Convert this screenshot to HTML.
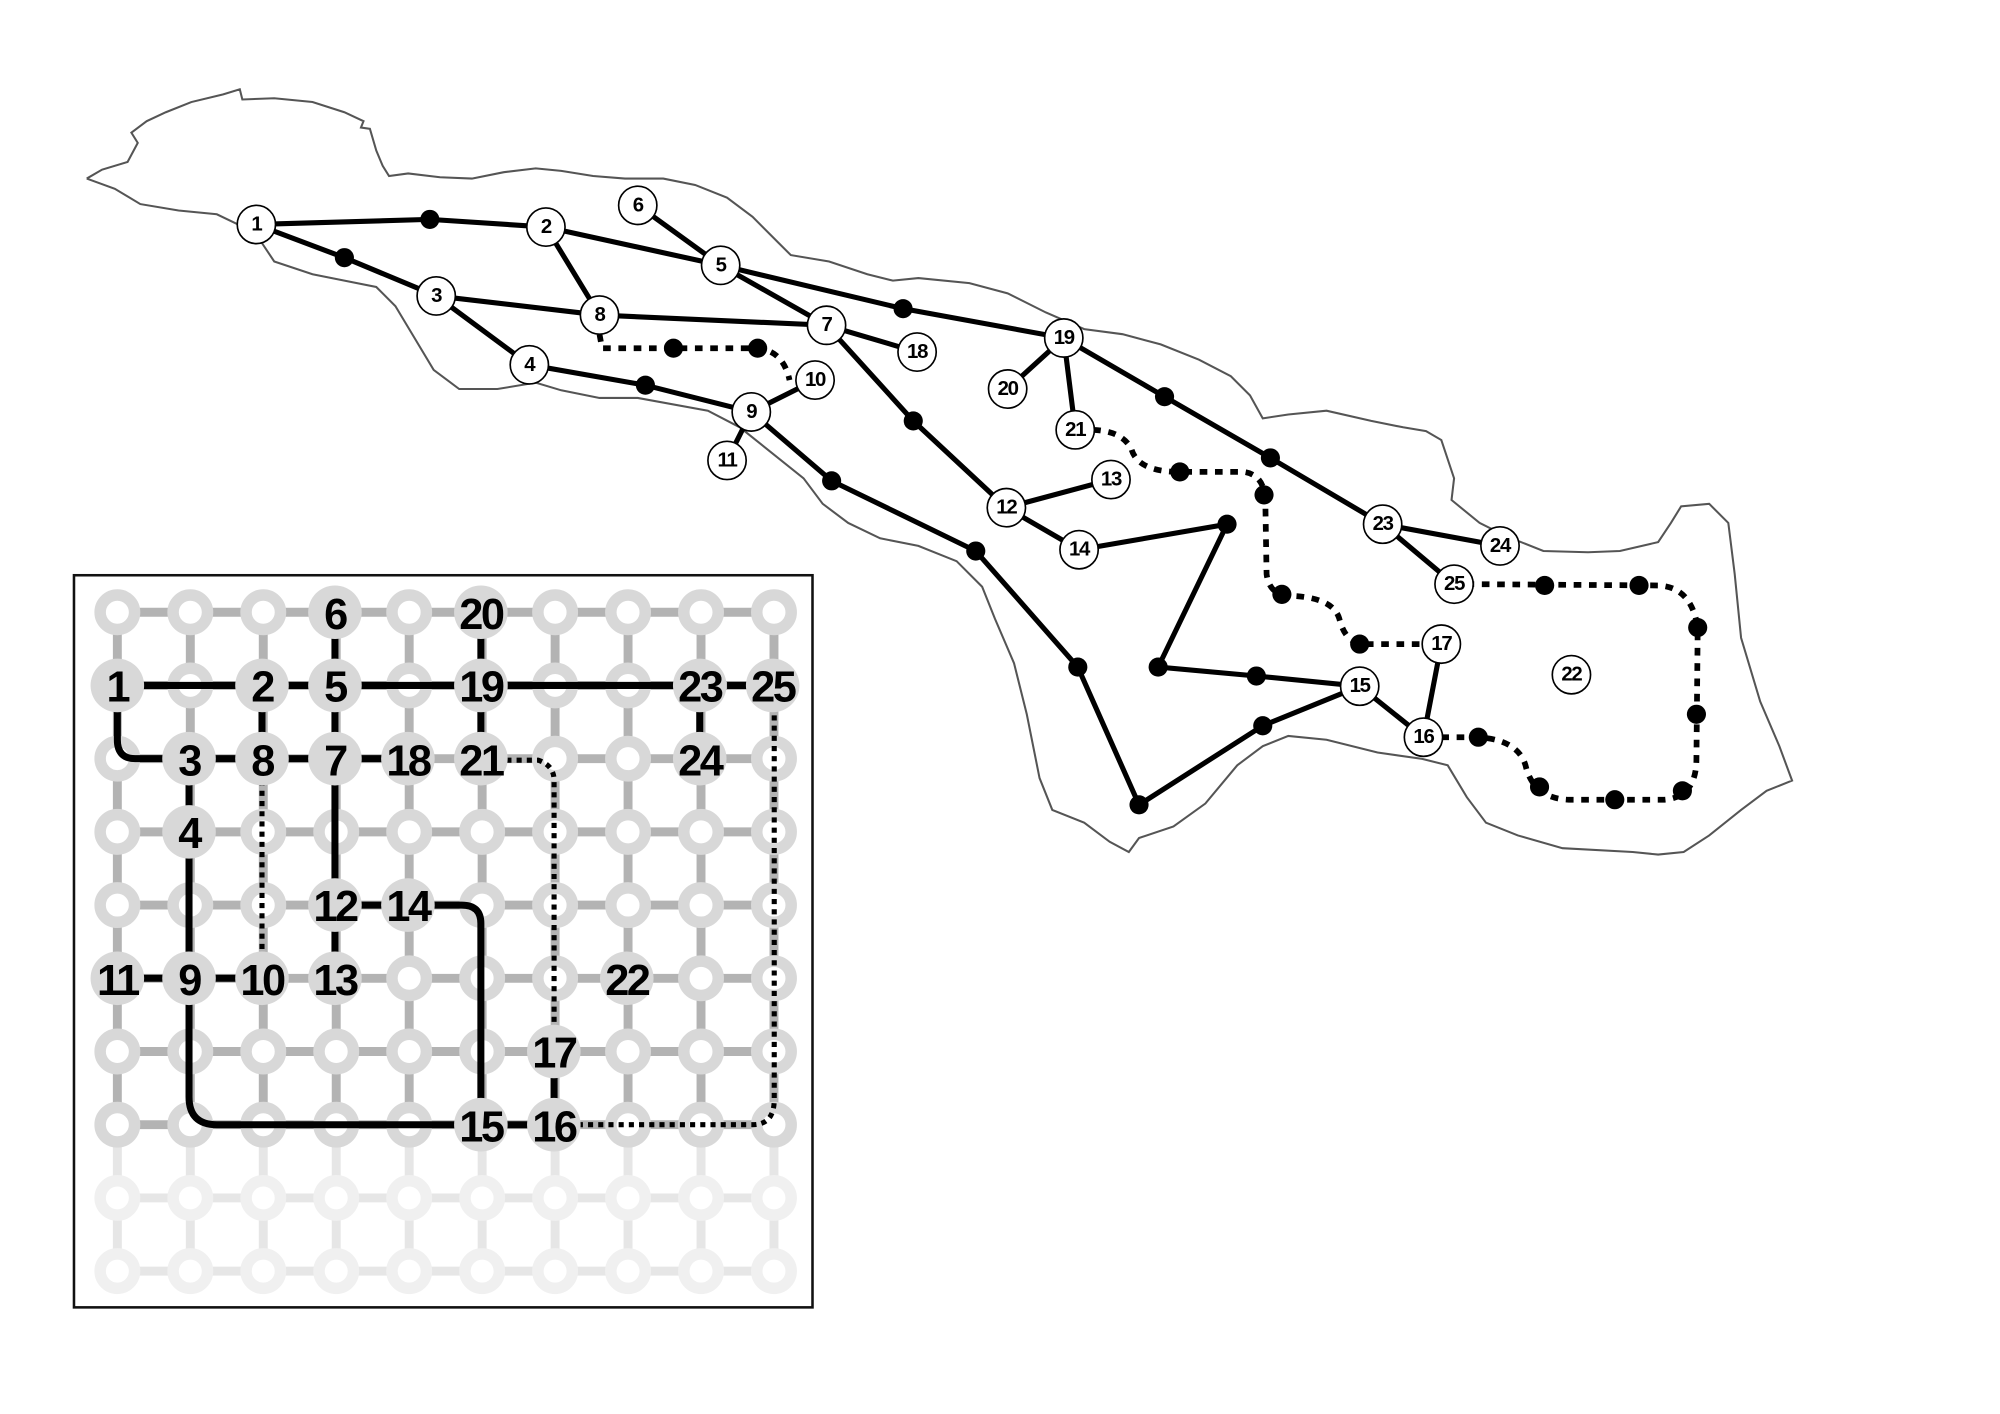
<!DOCTYPE html>
<html><head><meta charset="utf-8"><style>
html,body{margin:0;padding:0;background:#fff;}
svg{display:block;}
.n{font-family:"Liberation Sans",sans-serif;font-weight:bold;font-size:16px;text-anchor:middle;dominant-baseline:central;letter-spacing:-1px;}
.g{font-family:"Liberation Sans",sans-serif;font-weight:bold;font-size:34px;text-anchor:middle;dominant-baseline:central;letter-spacing:-2px;}
</style></head><body>
<svg width="2000" height="1414" viewBox="0 0 1568 1108.6" preserveAspectRatio="none" xmlns="http://www.w3.org/2000/svg">
<rect width="1568" height="1109" fill="#fff"/>
<path d="M68,140 L80,133 100,127 108,112 103,104 115,95 130,88 150,80 175,74 188,70 190,78 215,77 245,80 270,88 285,95 283,100 290,101 295,118 300,130 305,138 320,136 345,139 370,140 395,135 420,132 440,134 465,138 490,140 520,140 545,145 570,155 590,170 610,190 620,200 650,205 680,215 700,220 720,218 760,222 790,230 820,245 850,258 880,262 910,270 940,282 965,295 980,310 990,328 1010,325 1040,322 1075,330 1100,335 1118,338 1130,345 1140,375 1138,392 1160,410 1180,420 1210,432 1245,433 1270,432 1300,425 1310,410 1318,397 1340,395 1355,410 1360,450 1365,500 1380,550 1395,585 1405,612 1385,620 1365,635 1340,655 1320,668 1300,670 1280,668 1225,665 1190,655 1165,645 1150,625 1135,600 1115,595 1080,590 1040,580 1010,577 990,585 970,600 945,630 920,648 893,657 885,668 870,660 850,645 825,635 815,610 805,560 795,520 780,485 770,460 750,440 720,428 690,422 665,410 645,395 630,375 605,355 580,335 555,322 500,312 470,312 440,306 420,300 390,305 360,305 340,290 325,265 310,240 295,225 270,220 245,215 215,205 205,190 195,180 170,168 140,165 110,160 90,148 68,140" fill="none" stroke="#555" stroke-width="1.6"/>
<g stroke="#000" stroke-width="4" fill="none" stroke-linecap="round">
<polyline points="201,176 337,172 428,178 565,208 708,242 834,265 913,311 996,359 1084,411 1176,428"/>
<polyline points="201,176 270,202 342,232 415,286 506,302 589,323 639,298"/>
<polyline points="342,232 470,247 648,255 719,276"/>
<line x1="428" y1="178" x2="470" y2="247"/>
<polyline points="500,161 565,208 648,255 716,330 789,398 871,376"/>
<line x1="789" y1="398" x2="846" y2="431"/>
<polyline points="846,431 962,411 908,523 985,530 1066,538 1116,578 1130,505"/>
<polyline points="589,323 570,361"/>
<polyline points="589,323 652,377 765,432 845,523 893,631 990,569 1066,538"/>
<polyline points="790,305 834,265 843,337"/>
<line x1="1084" y1="411" x2="1140" y2="458"/>
</g>
<g stroke="#000" stroke-width="4.5" fill="none" stroke-dasharray="6 6">
<path d="M470,262 L472,273 L594,273 Q614,275 619,298"/>
<path d="M857,337 Q880,338 887,352 Q892,370 925,370 L975,370 Q991,372 992,392 L993,450 Q995,466 1010,467 Q1045,468 1050,485 Q1055,505 1070,505 L1115,505"/>
<path d="M1130,578 L1159,578 Q1190,580 1196,600 Q1202,626 1230,627 L1305,627 Q1330,625 1330,595 L1331,492 Q1326,460 1300,459 L1155,458"/>
</g>
<g fill="#000">
<circle cx="337" cy="172" r="7.5"/><circle cx="270" cy="202" r="7.5"/><circle cx="708" cy="242" r="7.5"/>
<circle cx="506" cy="302" r="7.5"/><circle cx="528" cy="273" r="7.5"/><circle cx="594" cy="273" r="7.5"/>
<circle cx="652" cy="377" r="7.5"/><circle cx="765" cy="432" r="7.5"/><circle cx="845" cy="523" r="7.5"/>
<circle cx="893" cy="631" r="7.5"/><circle cx="990" cy="569" r="7.5"/><circle cx="716" cy="330" r="7.5"/>
<circle cx="962" cy="411" r="7.5"/><circle cx="908" cy="523" r="7.5"/><circle cx="985" cy="530" r="7.5"/>
<circle cx="913" cy="311" r="7.5"/><circle cx="996" cy="359" r="7.5"/>
<circle cx="925" cy="370" r="7.5"/><circle cx="991" cy="388" r="7.5"/><circle cx="1005" cy="466" r="7.5"/>
<circle cx="1066" cy="505" r="7.5"/><circle cx="1159" cy="578" r="7.5"/><circle cx="1207" cy="617" r="7.5"/>
<circle cx="1266" cy="627" r="7.5"/><circle cx="1319" cy="620" r="7.5"/><circle cx="1330" cy="560" r="7.5"/>
<circle cx="1331" cy="492" r="7.5"/><circle cx="1285" cy="459" r="7.5"/><circle cx="1211" cy="459" r="7.5"/>
</g>
<g stroke="#000" stroke-width="1.3" fill="#fff">
<circle cx="201" cy="176" r="15"/><circle cx="428" cy="178" r="15"/><circle cx="500" cy="161" r="15"/>
<circle cx="565" cy="208" r="15"/><circle cx="342" cy="232" r="15"/><circle cx="470" cy="247" r="15"/>
<circle cx="648" cy="255" r="15"/><circle cx="719" cy="276" r="15"/><circle cx="834" cy="265" r="15"/>
<circle cx="415" cy="286" r="15"/><circle cx="589" cy="323" r="15"/><circle cx="639" cy="298" r="15"/>
<circle cx="570" cy="361" r="15"/><circle cx="790" cy="305" r="15"/><circle cx="843" cy="337" r="15"/>
<circle cx="789" cy="398" r="15"/><circle cx="871" cy="376" r="15"/><circle cx="846" cy="431" r="15"/>
<circle cx="1084" cy="411" r="15"/><circle cx="1176" cy="428" r="15"/><circle cx="1140" cy="458" r="15"/>
<circle cx="1130" cy="505" r="15"/><circle cx="1066" cy="538" r="15"/><circle cx="1116" cy="578" r="15"/>
<circle cx="1232" cy="529" r="15"/>
</g>
<g class="n">
<text x="201" y="176">1</text><text x="428" y="178">2</text><text x="500" y="161">6</text>
<text x="565" y="208">5</text><text x="342" y="232">3</text><text x="470" y="247">8</text>
<text x="648" y="255">7</text><text x="719" y="276">18</text><text x="834" y="265">19</text>
<text x="415" y="286">4</text><text x="589" y="323">9</text><text x="639" y="298">10</text>
<text x="570" y="361">11</text><text x="790" y="305">20</text><text x="843" y="337">21</text>
<text x="789" y="398">12</text><text x="871" y="376">13</text><text x="846" y="431">14</text>
<text x="1084" y="411">23</text><text x="1176" y="428">24</text><text x="1140" y="458">25</text>
<text x="1130" y="505">17</text><text x="1066" y="538">15</text><text x="1116" y="578">16</text>
<text x="1232" y="529">22</text>
</g>
<rect x="58" y="451" width="579" height="574" fill="#fff" stroke="#111" stroke-width="2"/>
<g stroke="#b3b3b3" stroke-width="7">
<line x1="92" y1="480" x2="607" y2="480"/><line x1="92" y1="537.4" x2="607" y2="537.4"/>
<line x1="92" y1="594.8" x2="607" y2="594.8"/><line x1="92" y1="652.2" x2="607" y2="652.2"/>
<line x1="92" y1="709.6" x2="607" y2="709.6"/><line x1="92" y1="767" x2="607" y2="767"/>
<line x1="92" y1="824.4" x2="607" y2="824.4"/><line x1="92" y1="881.8" x2="607" y2="881.8"/>
</g>
<g stroke="#e6e6e6" stroke-width="7">
<line x1="92" y1="939.2" x2="607" y2="939.2"/><line x1="92" y1="996.6" x2="607" y2="996.6"/>
</g>
<g id="cols"></g>
<script>
(function(){
var ns="http://www.w3.org/2000/svg";
var g=document.getElementById("cols");
function el(t,a){var e=document.createElementNS(ns,t);for(var k in a)e.setAttribute(k,a[k]);g.appendChild(e);return e;}
for(var i=0;i<10;i++){var x=92+57.2*i;
 el("line",{x1:x,y1:480,x2:x,y2:881.8,stroke:"#b3b3b3","stroke-width":7});
 el("line",{x1:x,y1:881.8,x2:x,y2:996.6,stroke:"#e6e6e6","stroke-width":7});}
for(var i=0;i<10;i++){var x=92+57.2*i;
 for(var j=0;j<10;j++){var y=480+57.4*j;
  el("circle",{cx:x,cy:y,r:13.5,fill:"#fff",stroke:j>=8?"#f0f0f0":"#d8d8d8","stroke-width":9});
 }}
})();
</script>
<g stroke="#000" stroke-width="5.5" fill="none">
<line x1="108" y1="537.4" x2="188" y2="537.4"/><line x1="220" y1="537.4" x2="245" y2="537.4"/>
<line x1="282" y1="537.4" x2="358" y2="537.4"/><line x1="398" y1="537.4" x2="530" y2="537.4"/>
<line x1="570" y1="537.4" x2="588" y2="537.4"/>
<path d="M92,552 L92,580 Q92,594.8 106,594.8 L128,594.8"/>
<line x1="166" y1="594.8" x2="188" y2="594.8"/><line x1="222" y1="594.8" x2="244" y2="594.8"/>
<line x1="280" y1="594.8" x2="300" y2="594.8"/>
<line x1="205.4" y1="552" x2="205.4" y2="580"/>
<line x1="262.6" y1="497" x2="262.6" y2="520"/><line x1="262.6" y1="553" x2="262.6" y2="578"/>
<line x1="262.6" y1="612" x2="262.6" y2="692"/><line x1="262.6" y1="727" x2="262.6" y2="750"/>
<line x1="377" y1="497" x2="377" y2="520"/><line x1="377" y1="553" x2="377" y2="578"/>
<line x1="548.6" y1="553" x2="548.6" y2="578"/>
<line x1="148.2" y1="610" x2="148.2" y2="636"/>
<path d="M148.2,670 L148.2,860 Q148.2,881.8 170,881.8 L358,881.8"/>
<line x1="282" y1="709.6" x2="302" y2="709.6"/>
<path d="M340,709.6 L362,709.6 Q377,709.6 377,724 L377,865"/>
<line x1="108" y1="767" x2="128" y2="767"/><line x1="168" y1="767" x2="186" y2="767"/>
<line x1="434.4" y1="842" x2="434.4" y2="865"/>
<line x1="397" y1="881.8" x2="416" y2="881.8"/>
</g>
<g stroke="#000" stroke-width="4" fill="none" stroke-dasharray="4 4">
<line x1="205.4" y1="612" x2="205.4" y2="752"/>
<path d="M397,596 L422,596 Q434.4,600 434.4,612 L434.4,808"/>
<path d="M453,881.8 L590,881.8 Q607,881.8 607,862 L607,555"/>
</g>
<g fill="#d8d8d8">
<circle cx="262.6" cy="480" r="21"/><circle cx="377" cy="480" r="21"/>
<circle cx="92" cy="537.4" r="21"/><circle cx="205.4" cy="537.4" r="21"/><circle cx="262.6" cy="537.4" r="21"/>
<circle cx="377" cy="537.4" r="21"/><circle cx="548.6" cy="537.4" r="21"/><circle cx="605.8" cy="537.4" r="21"/>
<circle cx="148.2" cy="594.8" r="21"/><circle cx="205.4" cy="594.8" r="21"/><circle cx="262.6" cy="594.8" r="21"/>
<circle cx="319.8" cy="594.8" r="21"/><circle cx="377" cy="594.8" r="21"/><circle cx="548.6" cy="594.8" r="21"/>
<circle cx="148.2" cy="652.2" r="21"/><circle cx="262.6" cy="709.6" r="21"/><circle cx="319.8" cy="709.6" r="21"/>
<circle cx="92" cy="767" r="21"/><circle cx="148.2" cy="767" r="21"/><circle cx="205.4" cy="767" r="21"/>
<circle cx="262.6" cy="767" r="21"/><circle cx="491.4" cy="767" r="21"/><circle cx="434.2" cy="824.4" r="21"/>
<circle cx="377" cy="881.8" r="21"/><circle cx="434.2" cy="881.8" r="21"/>
</g>
<g class="g">
<text x="262.6" y="482">6</text><text x="377" y="482">20</text>
<text x="92" y="539">1</text><text x="205.4" y="539">2</text><text x="262.6" y="539">5</text>
<text x="377" y="539">19</text><text x="548.6" y="539">23</text><text x="605.8" y="539">25</text>
<text x="148.2" y="597">3</text><text x="205.4" y="597">8</text><text x="262.6" y="597">7</text>
<text x="319.8" y="597">18</text><text x="377" y="597">21</text><text x="548.6" y="597">24</text>
<text x="148.2" y="654">4</text><text x="262.6" y="711">12</text><text x="319.8" y="711">14</text>
<text x="92" y="769">11</text><text x="148.2" y="769">9</text><text x="205.4" y="769">10</text>
<text x="262.6" y="769">13</text><text x="491.4" y="769">22</text><text x="434.2" y="826">17</text>
<text x="377" y="884">15</text><text x="434.2" y="884">16</text>
</g>
</svg>
</body></html>
